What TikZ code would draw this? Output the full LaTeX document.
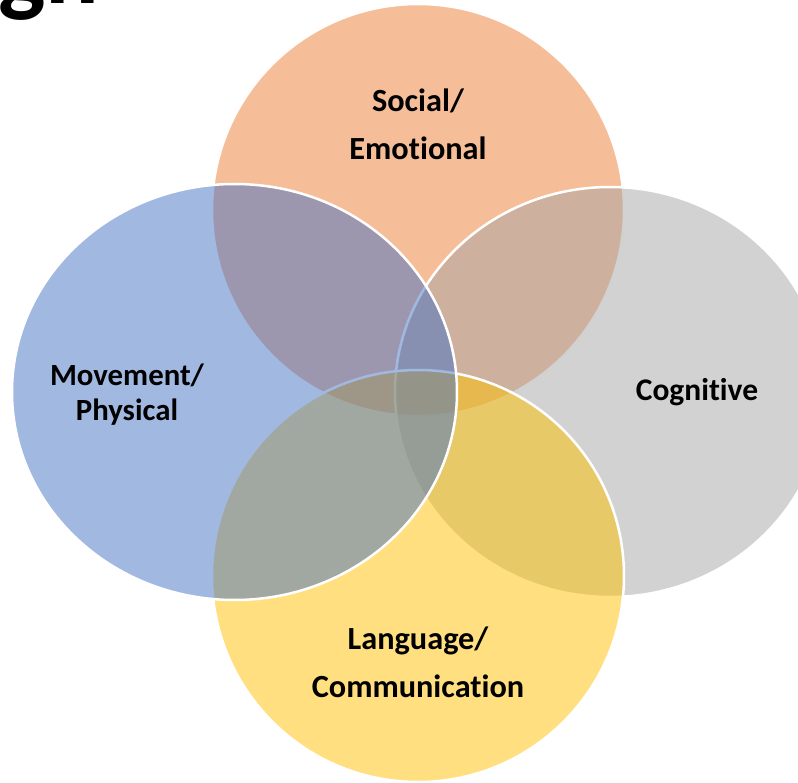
\documentclass[tikz,border=0pt]{standalone}
\usepackage{fontspec}
\setmainfont[Ligatures={NoCommon}]{Carlito}
\definecolor{socialc}{HTML}{ED7D31}
\definecolor{cogc}{HTML}{A5A5A5}
\definecolor{langc}{HTML}{FFC000}
\definecolor{movec}{HTML}{4472C4}
\begin{document}
\begin{tikzpicture}[x=1pt,y=-1pt,
  venn/.style={draw=white, line width=2.5pt, fill opacity=0.5},
  lbl/.style={font=\bfseries, align=center, text=black, inner sep=0pt}]
\useasboundingbox (0,0) rectangle (798,783);
\begin{scope}
\clip (0,0) rectangle (798,783);
% heading, cut off by the frame
\node[anchor=base west, font=\bfseries\fontsize{100}{100}\selectfont, inner sep=0pt] (title) at (-2,4) {gh};
% the four domains, drawn clockwise from the top
\path[venn, fill=socialc] (418,210) ellipse [x radius=206pt, y radius=206pt];
\path[venn, fill=cogc]    (610,392) ellipse [x radius=215pt, y radius=205pt];
\path[venn, fill=langc]   (418,576) ellipse [x radius=206pt, y radius=206pt];
\path[venn, fill=movec]   (234.5,392) ellipse [x radius=222.5pt, y radius=208pt];
\end{scope}
% labels
\node[lbl, font=\bfseries\fontsize{32.3}{48}\selectfont] (social) at (418,124) {Social/\\Emotional};
\node[lbl, font=\bfseries\fontsize{31.5}{36}\selectfont] (cog) at (697,392) {Cognitive};
\node[lbl, font=\bfseries\fontsize{32.3}{48}\selectfont] (lang) at (418,662) {Language/\\Communication};
\node[lbl, font=\bfseries\fontsize{30.8}{35}\selectfont] (move) at (127,395) {Movement/\\Physical};
\end{tikzpicture}
\end{document}
